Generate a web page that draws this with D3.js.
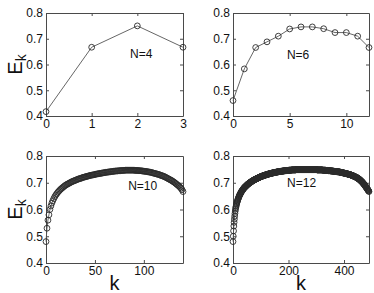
<!DOCTYPE html>
<html><head><meta charset="utf-8">
<script src="https://cdn.jsdelivr.net/npm/d3@7"></script>
<style>body{margin:0;background:#fff}svg{display:block}text{font-family:"Liberation Sans",Arial,Helvetica,sans-serif}</style>
</head><body><svg id="c" width="374" height="293"></svg>
<script>
// ---- data ----
const yTicks = [0.4, 0.5, 0.6, 0.7, 0.8];
const seriesNames = ["N=4", "N=6", "N=10", "N=12"];
const xTicks4 = [0, 1, 2, 3];
const xTicks6 = [0, 5, 10];
const xTicks10 = [0, 50, 100];
const xTicks12 = [0, 200, 400];
const e4 = [0.417, 0.667, 0.750, 0.667];
const e6 = [0.460, 0.583, 0.666, 0.688, 0.710, 0.738, 0.746, 0.746, 0.739, 0.724, 0.724, 0.710, 0.666];
const e10 = [
.48,.53,.56,.58,.60,.613,.624,.633,.641,.648,
.654,.659,.664,.668,.672,.676,.679,.682,.685,.688,
.691,.693,.695,.697,.699,.701,.703,.705,.706,.708,
.709,.711,.712,.714,.715,.716,.717,.719,.72,.721,
.722,.723,.724,.725,.726,.727,.728,.729,.729,.73,
.731,.732,.733,.733,.734,.735,.735,.736,.737,.737,
.738,.739,.739,.74,.74,.741,.741,.742,.742,.743,
.743,.744,.744,.744,.745,.745,.745,.746,.746,.746,
.746,.747,.747,.747,.747,.747,.747,.747,.747,.747,
.747,.746,.746,.746,.746,.745,.745,.745,.744,.744,
.743,.743,.742,.742,.741,.74,.74,.739,.738,.737,
.736,.735,.734,.733,.732,.731,.73,.728,.727,.726,
.724,.723,.721,.719,.717,.715,.713,.711,.709,.707,
.704,.702,.699,.696,.693,.69,.687,.683,.679,.674,
.667];
const e12 = [
.48,.5,.52,.538,.552,.564,.575,.585,.594,.601,
.607,.612,.617,.621,.625,.629,.632,.635,.638,.641,
.644,.647,.649,.652,.654,.656,.658,.66,.662,.664,
.666,.668,.669,.671,.672,.674,.675,.677,.678,.679,
.681,.682,.683,.684,.685,.686,.687,.688,.689,.69,
.691,.692,.693,.694,.695,.696,.696,.697,.698,.699,
.7,.7,.701,.702,.703,.703,.704,.705,.705,.706,
.707,.707,.708,.709,.709,.71,.71,.711,.712,.712,
.713,.713,.714,.714,.715,.715,.716,.716,.717,.717,
.718,.718,.719,.719,.72,.72,.721,.721,.722,.722,
.723,.723,.723,.724,.724,.725,.725,.725,.726,.726,
.727,.727,.727,.728,.728,.728,.729,.729,.729,.73,
.73,.73,.731,.731,.731,.732,.732,.732,.733,.733,
.733,.733,.734,.734,.734,.735,.735,.735,.735,.736,
.736,.736,.736,.737,.737,.737,.737,.738,.738,.738,
.738,.739,.739,.739,.739,.739,.74,.74,.74,.74,
.74,.741,.741,.741,.741,.741,.742,.742,.742,.742,
.742,.742,.743,.743,.743,.743,.743,.743,.744,.744,
.744,.744,.744,.744,.744,.745,.745,.745,.745,.745,
.745,.745,.745,.746,.746,.746,.746,.746,.746,.746,
.746,.747,.747,.747,.747,.747,.747,.747,.747,.747,
.747,.748,.748,.748,.748,.748,.748,.748,.748,.748,
.748,.748,.748,.748,.748,.748,.748,.749,.749,.749,
.749,.749,.749,.749,.749,.749,.749,.749,.749,.749,
.749,.749,.749,.749,.749,.749,.749,.749,.749,.749,
.749,.749,.749,.749,.749,.749,.749,.749,.749,.749,
.749,.749,.749,.749,.749,.749,.749,.749,.749,.749,
.749,.749,.749,.749,.749,.749,.749,.749,.749,.749,
.749,.749,.749,.749,.749,.749,.749,.749,.749,.749,
.749,.749,.749,.749,.749,.749,.749,.749,.749,.749,
.749,.749,.749,.748,.748,.748,.748,.748,.748,.748,
.748,.748,.748,.748,.748,.748,.748,.748,.748,.748,
.748,.748,.748,.747,.747,.747,.747,.747,.747,.747,
.747,.747,.747,.747,.746,.746,.746,.746,.746,.746,
.746,.746,.746,.745,.745,.745,.745,.745,.745,.745,
.745,.745,.744,.744,.744,.744,.744,.744,.744,.744,
.744,.743,.743,.743,.743,.743,.742,.742,.742,.742,
.742,.742,.742,.742,.741,.741,.741,.741,.741,.741,
.741,.741,.74,.74,.74,.74,.74,.739,.739,.739,
.739,.738,.738,.738,.738,.737,.737,.737,.737,.736,
.736,.736,.736,.735,.735,.735,.735,.734,.734,.734,
.734,.733,.733,.733,.732,.732,.732,.732,.731,.731,
.731,.73,.73,.73,.729,.729,.729,.728,.728,.727,
.727,.727,.726,.726,.725,.725,.724,.724,.723,.723,
.722,.722,.721,.721,.72,.72,.719,.719,.718,.717,
.716,.716,.715,.714,.713,.713,.712,.711,.71,.709,
.708,.707,.706,.705,.704,.703,.702,.701,.699,.698,
.697,.696,.694,.693,.692,.69,.689,.687,.686,.684,
.683,.681,.68,.678,.677,.675,.674,.672,.67,.669,
.667];

// ---- layout ----
const panels = [
  {data: e4,  xt: xTicks4,  name: seriesNames[0], lk: 1.84, le: 0.64, box: [46, 13, 137, 103], yl: true,  xl: false},
  {data: e6,  xt: xTicks6,  name: seriesNames[1], lk: 4.76, le: 0.638, box: [233, 13, 136, 103], yl: false, xl: false},
  {data: e10, xt: xTicks10, name: seriesNames[2], lk: 84,  le: 0.69, box: [46, 156, 137, 107], yl: true,  xl: true},
  {data: e12, xt: xTicks12, name: seriesNames[3], lk: 195, le: 0.70, box: [233, 156, 136, 107], yl: false, xl: true}
];

const svg = d3.select("#c");
const frameCol = "#4a4a4a";

panels.forEach(p => {
  const [bx, by, bw, bh] = p.box;
  const x = d3.scaleLinear().domain([0, p.data.length - 1]).range([bx, bx + bw]);
  const y = d3.scaleLinear().domain([0.4, 0.8]).range([by + bh, by]);
  const g = svg.append("g");

  const styleAxis = sel => {
    sel.selectAll("path").attr("stroke", frameCol).attr("stroke-width", 1);
    sel.selectAll("line").attr("stroke", frameCol).attr("stroke-width", 1);
    sel.selectAll("text").attr("fill", "#111").style("font-size", "12px")
      .style("font-family", '"Liberation Sans",Arial,sans-serif');
  };

  g.append("g").attr("transform", `translate(${bx},0)`)
    .call(d3.axisLeft(y).tickValues(yTicks).tickFormat(d3.format(".1f")).tickSize(-3).tickSizeOuter(0).tickPadding(3))
    .call(styleAxis);
  g.append("g").attr("transform", `translate(${bx + bw},0)`)
    .call(d3.axisRight(y).tickValues(yTicks).tickFormat("").tickSize(-3).tickSizeOuter(0))
    .call(styleAxis);
  g.append("g").attr("transform", `translate(0,${by + bh})`)
    .call(d3.axisBottom(x).tickValues(p.xt).tickFormat(d3.format("d")).tickSize(-3).tickSizeOuter(0).tickPadding(3))
    .call(styleAxis);
  g.append("g").attr("transform", `translate(0,${by})`)
    .call(d3.axisTop(x).tickValues(p.xt).tickFormat("").tickSize(-3).tickSizeOuter(0))
    .call(styleAxis);

  const line = d3.line().x((d, i) => x(i)).y(d => y(d));
  g.append("path").datum(p.data).attr("d", line)
    .attr("fill", "none").attr("stroke", "#555").attr("stroke-width", 0.9);
  g.selectAll("circle").data(p.data).enter().append("circle")
    .attr("cx", (d, i) => x(i)).attr("cy", d => y(d)).attr("r", 2.9)
    .attr("fill", "none").attr("stroke", "#2a2a2a").attr("stroke-width", 0.9);

  g.append("text").attr("x", x(p.lk)).attr("y", y(p.le)).attr("dy", "0.35em")
    .style("font-size", "12px").attr("fill", "#111").text(p.name);

  if (p.yl) {
    const t = g.append("text")
      .attr("transform", `translate(22,${by + bh / 2}) rotate(-90)`)
      .attr("text-anchor", "middle").attr("fill", "#111").style("font-size", "20px");
    t.append("tspan").text("E");
    t.append("tspan").attr("dy", "0.3em").style("font-size", "14px").text("k");
  }
  if (p.xl) {
    g.append("text").attr("x", bx + bw / 2).attr("y", 290)
      .attr("text-anchor", "middle").attr("fill", "#111").style("font-size", "20px").text("k");
  }
});
</script></body></html>
